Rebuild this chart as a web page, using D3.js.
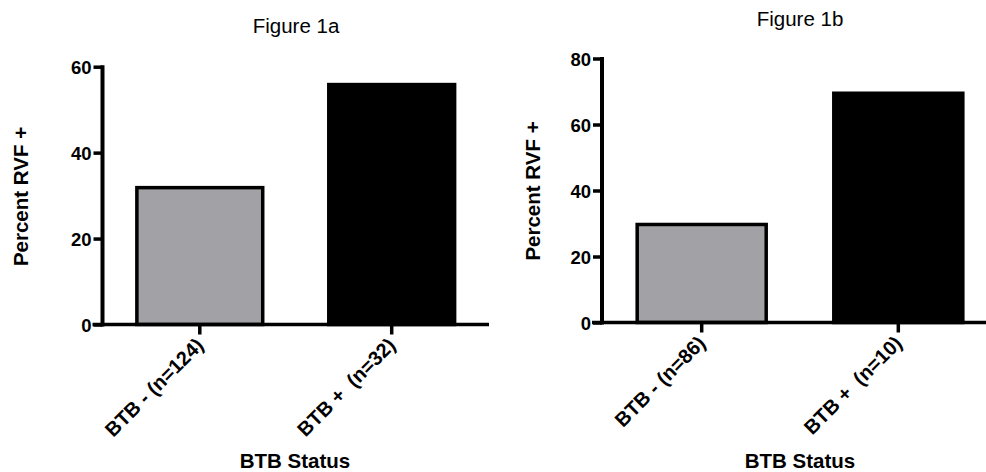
<!DOCTYPE html>
<html>
<head>
<meta charset="utf-8">
<script src="https://cdn.jsdelivr.net/npm/d3@7"></script>
<style>
  html, body { margin: 0; padding: 0; background: #fff; }
  svg { display: block; font-family: "Liberation Sans", Arial, Helvetica, sans-serif; }
</style>
</head>
<body>
<svg id="chart" width="986" height="472"></svg>
<script>
// Percent RVF positive by BTB status, two cohorts
const categoriesA = ["BTB - (n=124)", "BTB +  (n=32)"];
const valuesA = [32.26, 56.25];
const ticksA = [0, 20, 40, 60];

const categoriesB = ["BTB - (n=86)", "BTB +  (n=10)"];
const valuesB = [30.23, 70.0];
const ticksB = [0, 20, 40, 60, 80];

const barColors = ["#a2a1a6", "#000000"];

const titles = ["Figure 1a", "Figure 1b"];
const yTitle = "Percent RVF +";
const xTitle = "BTB Status";

const svg = d3.select("#chart");

function drawPanel(opts) {
  const { categories, values, ticks, title, layout } = opts;
  const g = svg.append("g");

  const y = d3.scaleLinear()
    .domain([0, d3.max(ticks)])
    .range([layout.yBottom, layout.yTop]);

  const x = d3.scaleBand()
    .domain(categories)
    .range([layout.xLeft, layout.xRight])
    .paddingInner(0.326)
    .paddingOuter(0.17);

  // bars: outline drawn inside the value so the outer edge sits on the value
  const sw = 3.5;
  g.selectAll("rect.bar")
    .data(categories.map((c, i) => ({ c, v: values[i], i })))
    .join("rect")
    .attr("class", "bar")
    .attr("x", d => x(d.c) + sw / 2)
    .attr("y", d => y(d.v) + sw / 2)
    .attr("width", x.bandwidth() - sw)
    .attr("height", d => y(0) - y(d.v) - sw / 2)
    .attr("fill", d => barColors[d.i])
    .attr("stroke", "#000")
    .attr("stroke-width", sw);

  // y axis
  const yAxis = d3.axisLeft(y)
    .tickValues(ticks)
    .tickSize(9)
    .tickPadding(2)
    .tickSizeOuter(0);
  const ya = g.append("g")
    .attr("transform", `translate(${layout.xLeft},0)`)
    .call(yAxis);
  ya.select(".domain").attr("stroke", "#000").attr("stroke-width", 4)
    .attr("d", `M0,${y(d3.max(ticks)) - 1.5}V${y(0) + 2}`);
  ya.selectAll(".tick line").attr("stroke", "#000").attr("stroke-width", 3.5);
  ya.selectAll(".tick text")
    .attr("fill", "#000")
    .style("font-size", "18.5px")
    .style("font-weight", "bold")
    .attr("dy", "0.36em");

  // x axis
  const xAxis = d3.axisBottom(x)
    .tickSize(10)
    .tickSizeOuter(0)
    .tickPadding(0);
  const xa = g.append("g")
    .attr("transform", `translate(0,${layout.yBottom})`)
    .call(xAxis);
  xa.select(".domain").attr("stroke", "#000").attr("stroke-width", 3.5)
    .attr("d", `M${layout.xLeft - 10},0H${layout.axisEnd}`);
  xa.selectAll(".tick line").attr("stroke", "#000").attr("stroke-width", 3.5);
  xa.selectAll(".tick text")
    .attr("fill", "#000")
    .style("font-size", "20px")
    .style("font-weight", "bold")
    .style("white-space", "pre")
    .attr("text-anchor", "end")
    .attr("y", 0)
    .attr("dy", 0)
    .attr("transform", "translate(5,22) rotate(-45)");

  // panel title
  g.append("text")
    .attr("x", layout.titleX)
    .attr("y", layout.titleY)
    .attr("text-anchor", "middle")
    .style("font-size", "20.5px")
    .attr("fill", "#000")
    .text(title);

  // y axis title
  g.append("text")
    .attr("transform", `translate(${layout.yTitleX},${layout.yTitleY}) rotate(-90)`)
    .attr("text-anchor", "middle")
    .style("font-size", "20.5px")
    .style("font-weight", "bold")
    .attr("fill", "#000")
    .text(yTitle);

  // x axis title
  g.append("text")
    .attr("x", layout.xTitleX)
    .attr("y", 468)
    .attr("text-anchor", "middle")
    .style("font-size", "20.5px")
    .style("font-weight", "bold")
    .attr("fill", "#000")
    .text(xTitle);
}

drawPanel({
  categories: categoriesA,
  values: valuesA,
  ticks: ticksA,
  title: titles[0],
  layout: {
    xLeft: 102.5, xRight: 489, axisEnd: 489,
    yTop: 66.7, yBottom: 324.5,
    titleX: 296, titleY: 33,
    yTitleX: 28, yTitleY: 196.5,
    xTitleX: 295
  }
});

drawPanel({
  categories: categoriesB,
  values: valuesB,
  ticks: ticksB,
  title: titles[1],
  layout: {
    xLeft: 602, xRight: 998, axisEnd: 990,
    yTop: 58.5, yBottom: 322.5,
    titleX: 800, titleY: 26,
    yTitleX: 540, yTitleY: 191,
    xTitleX: 800
  }
});
</script>
</body>
</html>
